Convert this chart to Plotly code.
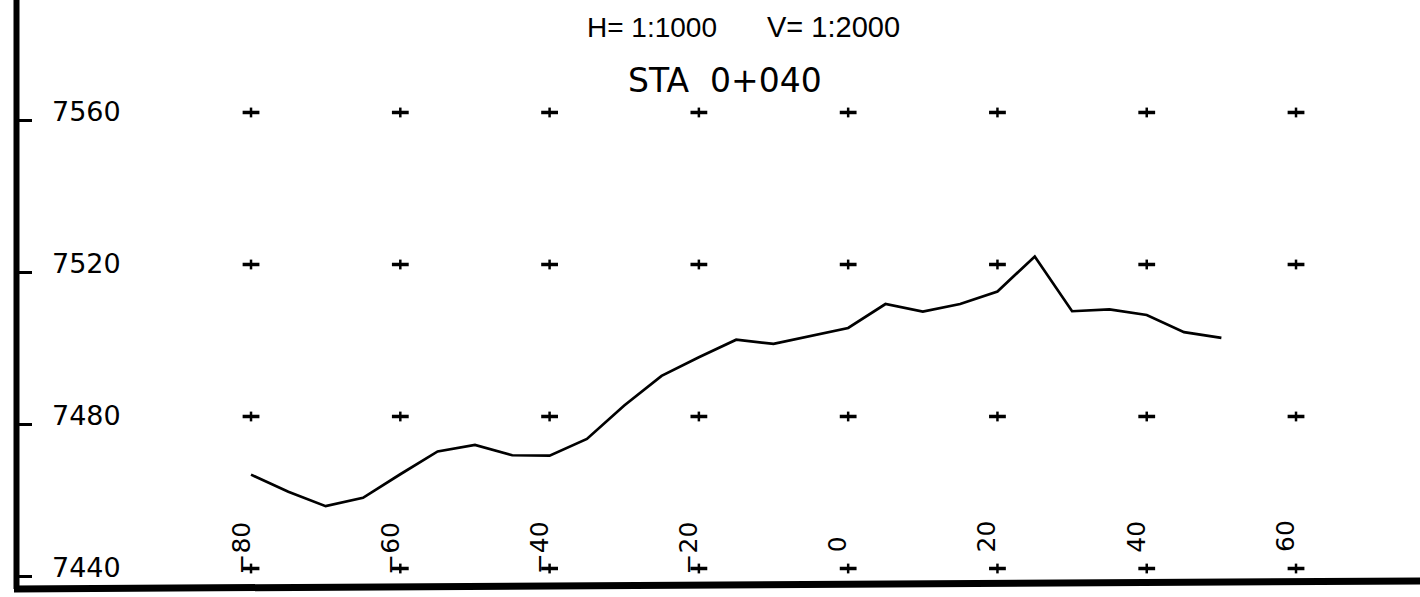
import plotly.graph_objects as go

# ---- data ----
stations = [-80, -75, -70, -65, -60, -55, -50, -45, -40, -35, -30, -25, -20, -15,
            -10, -5, 0, 5, 10, 15, 20, 25, 30, 35, 40, 45, 50]
elevations = [7464.7, 7460.2, 7456.4, 7458.6, 7464.8, 7470.8, 7472.5, 7469.8,
              7469.7, 7474.1, 7482.9, 7490.7, 7495.6, 7500.2, 7499.1, 7501.3,
              7503.3, 7509.6, 7507.6, 7509.6, 7512.9, 7522.1, 7507.7, 7508.2,
              7506.7, 7502.2, 7500.7]
x_ticks = [-80, -60, -40, -20, 0, 20, 40, 60]
y_ticks = [7440, 7480, 7520, 7560]
scale_h = "H= 1:1000"
scale_v = "V= 1:2000"
station_title = "STA\u00a0\u00a00+040"

W, H = 1420, 597
FONT = "DejaVu Sans"
Y_RANGE = [7432.5, 7589.6]
PX_PER_UNIT = H / (Y_RANGE[1] - Y_RANGE[0])
LEFT_SKEW_PX = 8  # scanned sheet sits a little lower at its left edge


def px(xp):
    return xp / W


def py(yp):
    return 1 - yp / H


fig = go.Figure()

# grid "+" markers
gx = [x for y in y_ticks for x in x_ticks]
gy = [y for y in y_ticks for x in x_ticks]
fig.add_trace(go.Scatter(x=gx, y=gy, mode="markers", hoverinfo="skip",
                         marker=dict(symbol="line-ew", size=12,
                                     line=dict(color="black", width=3.5))))
fig.add_trace(go.Scatter(x=gx, y=gy, mode="markers", hoverinfo="skip",
                         marker=dict(symbol="line-ns", size=7,
                                     line=dict(color="black", width=2.5))))

# ground profile
fig.add_trace(go.Scatter(x=stations, y=elevations, mode="lines", hoverinfo="skip",
                         line=dict(color="black", width=2.7)))

annotations = []
# rotated station labels
for v in x_ticks:
    neg = v < 0
    txt = f"{v}".replace("-", "\u2212")
    annotations.append(dict(x=v, y=y_ticks[0], xref="x", yref="y", text=txt,
                            textangle=-90, showarrow=False, xanchor="right",
                            yanchor="bottom", xshift=6,
                            yshift=-8 if neg else 14,
                            font=dict(family=FONT, size=25, color="black")))
# elevation labels
for v in y_ticks:
    annotations.append(dict(x=px(50), y=v, xref="paper", yref="y", text=str(v),
                            showarrow=False, xanchor="left", yanchor="middle",
                            yshift=9 - LEFT_SKEW_PX,
                            font=dict(family=FONT, size=27, color="black")))
# titles
annotations.append(dict(x=px(585), y=py(27.5), xref="paper", yref="paper",
                        text=scale_h, showarrow=False, xanchor="left",
                        yanchor="middle",
                        font=dict(family="Liberation Sans", size=28, color="black")))
annotations.append(dict(x=px(765), y=py(27.5), xref="paper", yref="paper",
                        text=scale_v, showarrow=False, xanchor="left",
                        yanchor="middle",
                        font=dict(family="Liberation Sans", size=29, color="black")))
annotations.append(dict(x=px(724.5), y=py(80), xref="paper", yref="paper",
                        text=station_title, showarrow=False, xanchor="center",
                        yanchor="middle",
                        font=dict(family=FONT, size=33, color="black")))

shapes = [
    # left frame line
    dict(type="line", xref="paper", yref="paper", x0=px(16.5), x1=px(16.5),
         y0=py(589), y1=1.0, line=dict(color="black", width=6)),
    # bottom frame line (slightly skewed like the scan)
    dict(type="line", xref="paper", yref="paper", x0=px(14), x1=1.0,
         y0=py(589), y1=py(581), line=dict(color="black", width=7)),
]
for v in y_ticks:
    yy = v - LEFT_SKEW_PX / PX_PER_UNIT
    shapes.append(dict(type="line", xref="paper", yref="y", x0=px(18), x1=px(32),
                       y0=yy, y1=yy, line=dict(color="black", width=3)))

fig.update_layout(
    width=W, height=H, autosize=False,
    margin=dict(l=0, r=0, t=0, b=0),
    paper_bgcolor="white", plot_bgcolor="white",
    showlegend=False,
    hovermode=False,
    xaxis=dict(range=[-113.63, 76.61], visible=False, fixedrange=True),
    yaxis=dict(range=Y_RANGE, visible=False, fixedrange=True),
    annotations=annotations,
    shapes=shapes,
)

fig.write_html("out.html",
               config={"displayModeBar": False, "staticPlot": True},
               post_script="document.body.style.margin='0';"
                           "document.body.style.overflow='hidden';")
